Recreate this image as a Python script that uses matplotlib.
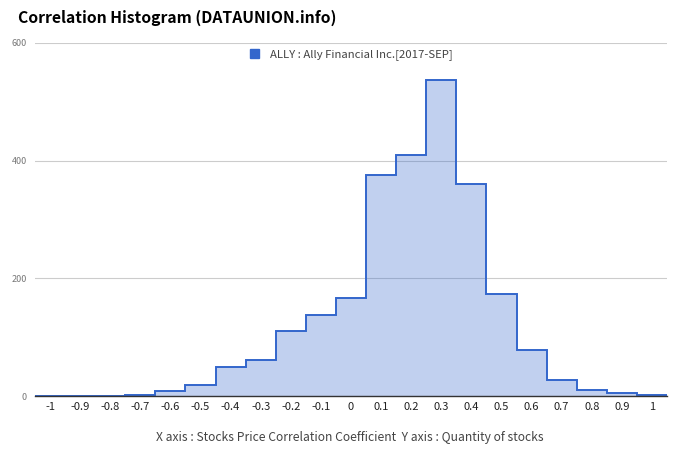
import matplotlib
matplotlib.use("Agg")
import matplotlib.pyplot as plt
import numpy as np
from matplotlib.patches import Patch

plt.rcParams['font.family'] = ['Noto Sans CJK KR', 'DejaVu Sans']

# Data
centers = [-1.0, -0.9, -0.8, -0.7, -0.6, -0.5, -0.4, -0.3, -0.2, -0.1, 0.0,
           0.1, 0.2, 0.3, 0.4, 0.5, 0.6, 0.7, 0.8, 0.9, 1.0]
counts = [0, 0, 0, 2, 8, 19, 50, 61, 110, 137, 166,
          376, 409, 537, 360, 173, 78, 28, 11, 5, 1]
tick_labels = ['-1', '-0.9', '-0.8', '-0.7', '-0.6', '-0.5', '-0.4', '-0.3', '-0.2', '-0.1', '0',
               '0.1', '0.2', '0.3', '0.4', '0.5', '0.6', '0.7', '0.8', '0.9', '1']
series_name = 'ALLY : Ally Financial Inc.[2017-SEP]'
title = 'Correlation Histogram (DATAUNION.info)'
xlabel = 'X axis : Stocks Price Correlation Coefficient  Y axis : Quantity of stocks'

c = np.array(centers)
edges = np.concatenate([c - 0.05, [c[-1] + 0.05]])

fig = plt.figure(figsize=(6.8, 4.62), dpi=100)
ax = fig.add_axes([35/680, 1 - 396/462, (667 - 35)/680, (396 - 43)/462])

line_color = '#3366cc'
ax.stairs(counts, edges, fill=True, color=line_color, alpha=0.3, linewidth=0, zorder=2)
ax.stairs(counts, edges, color=line_color, linewidth=1.4, zorder=3)

ax.set_xlim(-1.05, 1.05)
ax.set_ylim(0, 600)
ax.set_yticks([0, 200, 400, 600])
ax.set_xticks(centers)
ax.set_xticklabels(tick_labels)
ax.tick_params(axis='x', length=0, labelsize=8, colors='#222222', pad=4)
ax.tick_params(axis='y', length=0, labelsize=6.5, colors='#777777', pad=6)
ax.grid(axis='y', color='#cccccc', linewidth=0.8, zorder=0)
for s in ['top', 'right', 'left']:
    ax.spines[s].set_visible(False)
ax.spines['bottom'].set_color('#333333')
ax.spines['bottom'].set_linewidth(1.0)
ax.spines['bottom'].set_zorder(4)

leg = ax.legend(handles=[Patch(facecolor=line_color, edgecolor=line_color)], labels=[series_name],
                loc='upper center', bbox_to_anchor=(0.5, 1.0), frameon=False,
                fontsize=8.2, handlelength=0.85, handleheight=0.85, handletextpad=0.9, borderaxespad=0.1)
for t in leg.get_texts():
    t.set_color('#444444')

fig.text(18/680, 1 - 18/462, title, fontsize=11.3, fontweight='bold', color='#000000',
         ha='left', va='center')
fig.text(350/680, 1 - 437/462, xlabel, fontsize=8.7, color='#444444', ha='center', va='center')

fig.savefig('out.png', dpi=100)
